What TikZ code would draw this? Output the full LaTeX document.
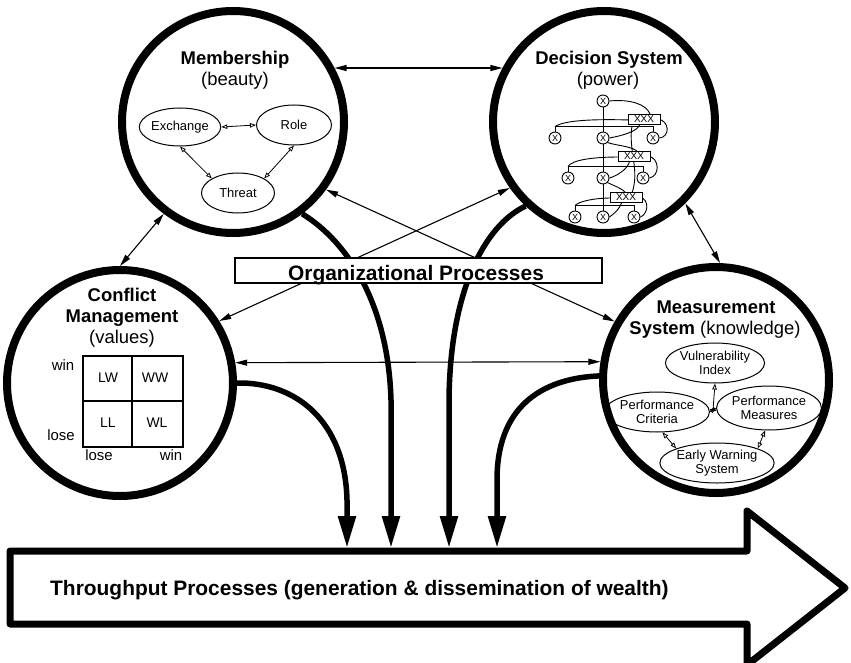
\documentclass[tikz,border=0pt]{standalone}
\usepackage{fontspec}
\setmainfont{Liberation Sans}
\usetikzlibrary{arrows.meta,shapes.geometric,calc}
\tikzset{
  bigc/.style={circle,draw,line width=8bp,minimum size=222bp,inner sep=0pt},
  ttl/.style={anchor=base,font=\bfseries\fontsize{18.5}{22}\selectfont,inner sep=0pt},
  sub/.style={anchor=base,font=\fontsize{18.5}{22}\selectfont,inner sep=0pt},
  ell/.style={ellipse,draw,line width=1bp,inner sep=0pt,font=\fontsize{13}{14.5}\selectfont,align=center},
  small/.style={anchor=base,font=\fontsize{15}{15}\selectfont,inner sep=0pt},
  cell/.style={anchor=base,font=\fontsize{14}{14}\selectfont,inner sep=0pt},
  thin/.style={line width=1.1bp,{Triangle[length=12bp,width=6bp]}-{Triangle[length=12bp,width=6bp]}},
  thickarr/.style={line width=5.5bp,-{Triangle[length=32bp,width=17bp]}},
  opena/.style={line width=0.8bp,{Triangle[open,length=6bp,width=4.5bp]}-{Triangle[open,length=6bp,width=4.5bp]}},
  xn/.style={circle,draw,fill=white,line width=0.9bp,inner sep=0pt,minimum size=12bp,font=\fontsize{9}{9}\selectfont},
  xb/.style={rectangle,draw,fill=white,line width=0.9bp,inner sep=0pt,minimum width=32bp,minimum height=10bp,font=\fontsize{10}{10}\selectfont},
  tl/.style={line width=0.9bp}
}
\begin{document}
\begin{tikzpicture}[x=1bp,y=-1bp]
\useasboundingbox (0,0) rectangle (851,663);
\clip (0,0) rectangle (851,663);
\fill[white] (0,0) rectangle (851,663);

% big circles
\node[bigc] (mem) at (233,122) {};
\node[bigc] (dec) at (604,122) {};
\node[bigc,minimum size=226bp] (con) at (120,383) {};
\node[bigc,minimum size=226bp] (mea) at (716,380) {};

% titles
\node[ttl] (memA) at (235,65) {Membership};
\node[sub] (memB) at (235,86) {(beauty)};
\node[ttl] (decA) at (609,65) {Decision System};
\node[sub] (decB) at (608,86) {(power)};
\node[ttl] (conA) at (122,301) {Conflict};
\node[ttl] (conB) at (122,322) {Management};
\node[sub] (conC) at (122,343) {(values)};
\node[ttl] (meaA) at (716,313) {Measurement};
\node[sub] (meaB) at (715,334) {{\bfseries System} (knowledge)};

% membership ellipses
\node[ell,minimum width=74bp,minimum height=38bp] (exch) at (180,127) {Exchange};
\node[ell,minimum width=75bp,minimum height=40bp] (role) at (294,125) {Role};
\node[ell,minimum width=73bp,minimum height=40bp] (threat) at (238,193) {Threat};
\draw[opena] (exch.east) -- (role.west);
\draw[opena] (exch.south) -- (threat.north west);
\draw[opena] (role.south) -- (threat.north east);

% measurement ellipses
\node[ell,minimum width=94bp,minimum height=40bp] (vul) at (715,363) {Vulnerability\\Index};
\node[ell,minimum width=84bp,minimum height=40bp] (pc) at (657,412) {Performance\\Criteria};
\node[ell,minimum width=86bp,minimum height=44bp] (pm) at (769,408) {Performance\\Measures};
\node[ell,minimum width=106bp,minimum height=40bp] (ews) at (717,463) {Early Warning\\System};
\draw[opena] (pc.east) -- (pm.west);
\coordinate (jn) at ($(pc.east)!0.5!(pm.west)$);
\draw[line width=0.8bp,-{Triangle[open,length=6bp,width=4.5bp]}] (jn) -- (vul.south);
\draw[opena] (pc.-75) -- (ews.north west);
\draw[opena] (pm.-100) -- (ews.north east);

% conflict grid
\draw[line width=1.1bp] (83,356) rectangle (183,447);
\draw[line width=1.1bp] (132,356) -- (132,447);
\draw[line width=1.1bp] (83,401) -- (183,401);
\node[cell] (lw) at (108,382) {LW};
\node[cell] (ww) at (155,382) {WW};
\node[cell] (ll) at (108,427) {LL};
\node[cell] (wl) at (157,427) {WL};
\node[small] (winL) at (63,370) {win};
\node[small] (loseL) at (61,440) {lose};
\node[small] (loseB) at (99,460) {lose};
\node[small] (winB) at (171,460) {win};

% decision tree
\coordinate (x0p) at (603,101);
\draw[tl] (603,101) -- (603,217);
\node[xn] (x0) at (603,101) {X};
\node[xn] (x1) at (555,138) {X};
\node[xn] (x2) at (603,138) {X};
\node[xn] (x3) at (653,138) {X};
\node[xn] (x4) at (568,178) {X};
\node[xn] (x5) at (603,178) {X};
\node[xn] (x6) at (643,178) {X};
\node[xn] (x7) at (575,217) {X};
\node[xn] (x8) at (603,217) {X};
\node[xn] (x9) at (634,217) {X};
\begin{scope}[on background layer/.style={}]
\draw[tl] (x1.north) -- ++(0,-5) -- ($(x3.north)+(0,-5)$) -- (x3.north);
\draw[tl] (x4.north) -- ++(0,-5) -- ($(x6.north)+(0,-5)$) -- (x6.north);
\draw[tl] (x7.north) -- ++(0,-5) -- ($(x9.north)+(0,-5)$) -- (x9.north);
\draw[tl] (x0.east) .. controls (630,99) and (646,104) .. (650,114);
\draw[tl] (630,120) .. controls (595,119) and (565,120) .. ($(x1.north)+(0,-5)$);
\draw[tl] (658,119) .. controls (670,121) and (670,137) .. (x3.east);
\draw[tl] (640,124) .. controls (638,132) and (620,136) .. (x2.east);
\draw[tl] (x2.south east) .. controls (618,146) and (632,146) .. (638,152);
\draw[tl] (632,126) .. controls (628,150) and (640,170) .. (632,193);
\draw[tl] (620,157) .. controls (592,157) and (572,160) .. ($(x4.north)+(0,-5)$);
\draw[tl] (648,156) .. controls (660,158) and (660,176) .. (x6.east);
\draw[tl] (630,160) .. controls (628,170) and (616,176) .. (x5.east);
\draw[tl] (x5.south east) .. controls (614,186) and (622,188) .. (626,193);
\draw[tl] (612,198) .. controls (592,198) and (578,202) .. ($(x7.north)+(0,-5)$);
\draw[tl] (640,197) .. controls (650,200) and (648,214) .. (x9.east);
\draw[tl] (622,201) .. controls (620,210) and (612,215) .. (x8.east);
\end{scope}
\node[xb] (b1) at (644,119) {XXX};
\node[xb] (b2) at (634,156) {XXX};
\node[xb] (b3) at (626,197) {XXX};

% big throughput arrow
\draw[line width=7bp,line join=round,fill=white] (10,551) -- (747,551) -- (747,511) -- (845,588) -- (747,665) -- (747,624) -- (10,624) -- cycle;
\node[anchor=base west,inner sep=0pt,font=\bfseries\fontsize{21}{21}\selectfont] (thr) at (50,595) {Throughput Processes (generation \& dissemination of wealth)};
\coordinate (e1) at (347,548);
\coordinate (e2) at (391,548);
\coordinate (e3) at (449,548);
\coordinate (e4) at (497,548);

% thin connectors
\draw[thin] (mem.28) -- (dec.152);
\draw[thin] (mem.233) -- (con.90);
\draw[thin] (dec.-45) -- (mea.88);
\draw[thin] (con.10) -- (mea.171);
\draw[thin] (con.32) -- (dec.215);
\draw[thin] (mem.-36) -- (mea.150);

% thick curves
\draw[thickarr] (con.0) .. controls (295,382) and (345,420) .. (347,500) -- (e1);
\draw[thickarr] (mem.-53) .. controls (345,240) and (388,300) .. (391,400) -- (e2);
\draw[thickarr] (dec.-133) .. controls (485,225) and (450,290) .. (449,400) -- (e3);
\draw[thickarr] (mea.178) .. controls (550,378) and (497,400) .. (497,480) -- (e4);

% organizational processes box
\node[draw,line width=1.2bp,fill=white,minimum width=367bp,minimum height=25bp,inner sep=0pt] (org) at (418.5,270.5) {};
\node[anchor=base,inner sep=0pt,font=\bfseries\fontsize{21}{21}\selectfont] (orgT) at (416,280) {Organizational Processes};
\end{tikzpicture}
\end{document}
